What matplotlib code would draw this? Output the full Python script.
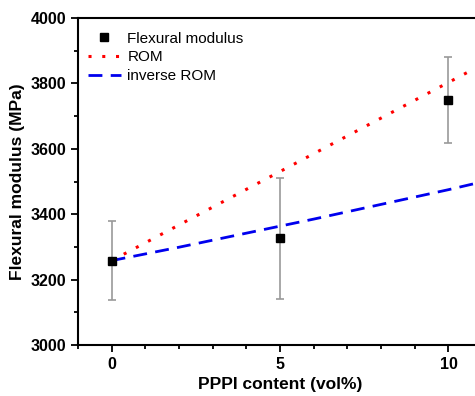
import matplotlib.pyplot as plt
from matplotlib.lines import Line2D
from matplotlib.ticker import MultipleLocator

# measured points
content = [0, 5, 10]
modulus = [3258, 3327, 3749]
modulus_err = [120, 185, 132]

# model lines
rom_x = [0, 12]
rom_y = [3258, 3912]
inv_x = [0, 2, 4, 6, 8, 10, 12]
inv_y = [3258, 3299, 3342, 3385, 3430, 3475, 3523]

plt.rcParams['font.family'] = ['Liberation Sans', 'DejaVu Sans']

fig = plt.figure(figsize=(4.75, 3.96), dpi=100)
ax = fig.add_axes([0.164, 0.1288, 0.851, 0.8257])

rom_line, = ax.plot(rom_x, rom_y, color='red', linestyle=(0, (1, 3.5)), linewidth=2.2)
inv_line, = ax.plot(inv_x, inv_y, color='#0000ee', linestyle=(0, (5, 3)), linewidth=2)
ax.errorbar(content, modulus, yerr=modulus_err, fmt='s', color='black', markersize=6,
            ecolor='#999999', elinewidth=1.2, capsize=3, capthick=1.2, zorder=3)

ax.set_xlim(-1, 11)
ax.set_ylim(3000, 4000)
ax.xaxis.set_major_locator(MultipleLocator(5))
ax.xaxis.set_minor_locator(MultipleLocator(1))
ax.yaxis.set_major_locator(MultipleLocator(200))
ax.yaxis.set_minor_locator(MultipleLocator(100))
ax.tick_params(which='major', direction='out', length=5, width=1.3, labelsize=11.5)
ax.tick_params(which='minor', direction='out', length=3, width=1.3)
for lbl in ax.get_xticklabels() + ax.get_yticklabels():
    lbl.set_fontweight('bold')
for s in ax.spines.values():
    s.set_linewidth(1.5)

ax.set_xlabel('PPPI content (vol%)', fontsize=12.5, fontweight='bold', labelpad=4)
ax.set_ylabel('Flexural modulus (MPa)', fontsize=12.5, fontweight='bold', labelpad=4)

pt_handle = Line2D([], [], marker='s', color='black', linestyle='none', markersize=6)
ax.legend([pt_handle, rom_line, inv_line], ['Flexural modulus', 'ROM', 'inverse ROM'],
          loc='upper left', frameon=False, fontsize=11, handlelength=2.2,
          borderaxespad=0.5, labelspacing=0.3, handletextpad=0.4, bbox_to_anchor=(-0.01, 1.0))

fig.savefig('out.png', dpi=100)
